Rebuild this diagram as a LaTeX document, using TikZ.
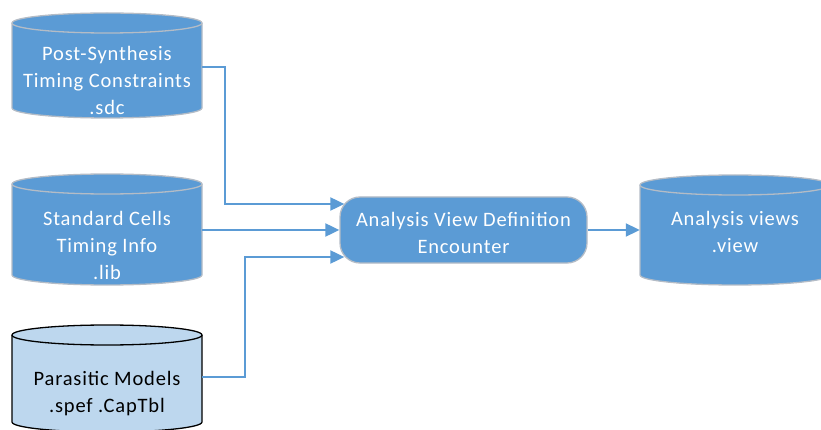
\documentclass[tikz,border=0pt]{standalone}
\usepackage{fontspec}
\setmainfont{Carlito}[LetterSpace=4]
\usetikzlibrary{arrows.meta,calc}
\definecolor{cblue}{HTML}{5B9BD5}
\definecolor{clight}{HTML}{BDD7EE}
\definecolor{cedge}{HTML}{B4BCC6}
\newcommand{\cylshape}[6]{%
  % #1 L, #2 R, #3 T, #4 B, #5 fill, #6 draw
  \pgfmathsetmacro{\cx}{(#1+#2)/2}
  \pgfmathsetmacro{\rx}{(#2-#1)/2}
  \fill[#5] (#1,#3+10) -- (#1,#4-10) arc[start angle=180,end angle=360,x radius=\rx pt,y radius=10pt] -- (#2,#3+10) arc[start angle=0,end angle=180,x radius=\rx pt,y radius=10pt] -- cycle;
  \draw[#6,line width=1.3pt] (#1,#3+10) -- (#1,#4-10) arc[start angle=180,end angle=360,x radius=\rx pt,y radius=10pt] -- (#2,#3+10);
  \draw[#6,line width=1.3pt] (\cx,#3+10) ellipse[x radius=\rx pt,y radius=10pt];
}
\tikzset{
  every node/.style={font=\fontsize{20.5}{27}\selectfont, align=center, inner sep=0pt},
  cylbox/.style={minimum width=190pt},
  wtext/.style={text=white},
  conn/.style={draw=cblue, line width=2pt, -{Triangle[length=14pt,width=13pt]}},
  procbox/.style={draw=cedge, fill=cblue, line width=1.3pt, rounded corners=20pt, minimum width=247pt, minimum height=66pt},
}
\begin{document}
\begin{tikzpicture}[x=1pt,y=-1pt]
\useasboundingbox (0,0) rectangle (821,430);
\cylshape{12}{202}{13}{118}{cblue}{cedge}
\cylshape{12}{202}{174}{285}{cblue}{cedge}
\cylshape{12}{202}{325}{432}{clight}{black}
\cylshape{640}{830}{175}{285}{cblue}{cedge}
\node[cylbox, minimum height=105pt] (c1) at (107,67) {};
\node[cylbox, minimum height=111pt] (c2) at (107,230) {};
\node[cylbox, minimum height=107pt] (c3) at (107,377) {};
\node[cylbox, minimum height=110pt] (c4) at (735,230) {};
\node[wtext] (t1) at (107,80) {Post-Synthesis\\Timing Constraints\\.sdc};
\node[wtext] (t2) at (107,245) {Standard Cells\\Timing Info\\.lib};
\node (t3) at (107,394) {Parasitic Models\\.spef .CapTbl};
\node[wtext] (t4) at (735,231.5) {Analysis views\\.view};
\node[procbox] (box) at (463.5,230) {};
\node[wtext] (tb) at (463.5,232.5) {Analysis View Definition\\Encounter};
\draw[conn] (c1.east) -- ++(23,0) |- ([xshift=5pt,yshift=26pt]box.west);
\draw[conn] (c2.east) -- (box.west);
\draw[conn] (c3.east) -- ++(43,0) |- ([xshift=5pt,yshift=-27pt]box.west);
\draw[conn] (box.east) -- (c4.west);
\end{tikzpicture}
\end{document}
